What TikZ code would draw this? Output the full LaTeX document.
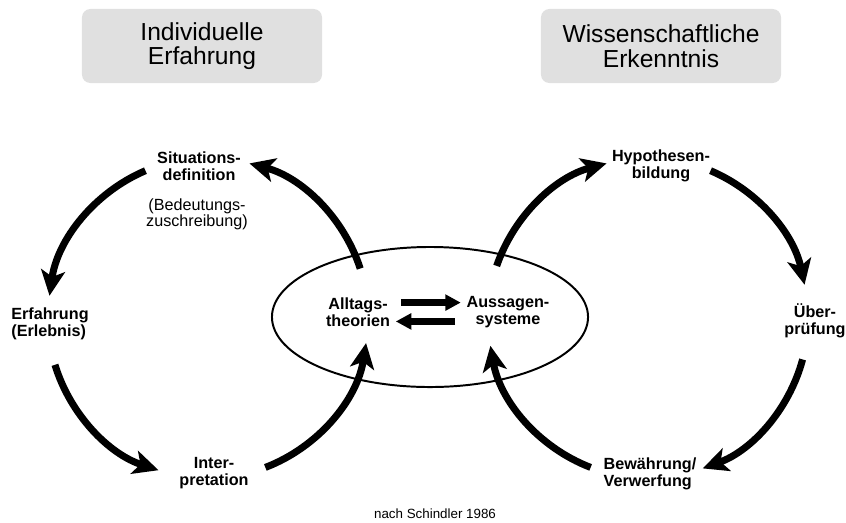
\documentclass[tikz,border=0pt]{standalone}
\usepackage{fontspec}
\setmainfont{Liberation Sans}
\usetikzlibrary{arrows.meta,shapes.geometric}
\definecolor{hdrgray}{RGB}{224,224,224}

\begin{document}
\begin{tikzpicture}[x=0.025cm, y=-0.025cm,
  head/.style={fill=hdrgray, rounded corners=6pt, minimum width=6cm, minimum height=1.85cm,
               align=center, font=\fontsize{17.5}{17.5}\selectfont},
  lbl/.style={align=center, inner sep=1pt, font=\fontsize{11.5}{12}\selectfont\bfseries},
  note/.style={align=center, inner sep=1pt, font=\fontsize{11.5}{11.5}\selectfont},
  cyc/.style={-{Stealth[length=18pt, width=17pt, inset=4.5pt]}, line width=5pt},
  xarr/.style={-{Triangle[length=11pt, width=11pt]}, line width=4.8pt}]
\useasboundingbox (0,0) rectangle (846,522);
\node[head] (ind) at (202,46) {Individuelle\\Erfahrung};
\node[head] (wis) at (661,46) {Wissenschaftliche\\Erkenntnis};
\coordinate (lc) at (208,318);
\coordinate (rc) at (648,318);
\node[draw, ellipse, line width=1.4pt, inner sep=0pt, minimum width=7.9cm, minimum height=3.5cm] (core) at (430,317) {};
\node[lbl] (sit) at (199,166) {Situations-\\definition};
\node[note] (bed) at (197,214) {(Bedeutungs-\\zuschreibung)};
\node[lbl, align=left] (erf) at (50,324) {Erfahrung\\(Erlebnis)};
\node[lbl] (int) at (214,473) {Inter-\\pretation};
\node[lbl] (all) at (358,312) {Alltags-\\theorien};
\node[lbl] (aus) at (508,312) {Aussagen-\\systeme};
\node[lbl] (hyp) at (661,166) {Hypothesen-\\bildung};
\node[lbl] (ueb) at (815,321) {Über-\\prüfung};
\node[lbl, align=left] (bew) at (650,474) {Bewährung/\\Verwerfung};
\node[font=\fontsize{9.5}{10}\selectfont] (src) at (435,514) {nach Schindler 1986};
\draw[cyc] ([shift={(113:4cm)}]lc) arc[start angle=113, end angle=172, radius=4cm];
\draw[cyc] ([shift={(197:4cm)}]lc) arc[start angle=197, end angle=252, radius=4cm];
\draw[cyc] ([shift={(291:4cm)}]lc) arc[start angle=291, end angle=351, radius=4cm];
\draw[cyc] ([shift={(18:4cm)}]lc) arc[start angle=18, end angle=75, radius=4cm];
\draw[cyc] ([shift={(161:4cm)}]rc) arc[start angle=161, end angle=105, radius=4cm];
\draw[cyc] ([shift={(67:4cm)}]rc) arc[start angle=67, end angle=12, radius=4cm];
\draw[cyc] ([shift={(-15:4cm)}]rc) arc[start angle=-15, end angle=-70, radius=4cm];
\draw[cyc] ([shift={(249:4cm)}]rc) arc[start angle=249, end angle=190, radius=4cm];
\draw[xarr] ([xshift=7pt, yshift=6.7pt]all.east) -- ([xshift=-3pt, yshift=6.7pt]aus.west);
\draw[xarr] ([xshift=-7pt, yshift=-6.7pt]aus.west) -- ([xshift=3pt, yshift=-6.7pt]all.east);
\end{tikzpicture}
\end{document}
